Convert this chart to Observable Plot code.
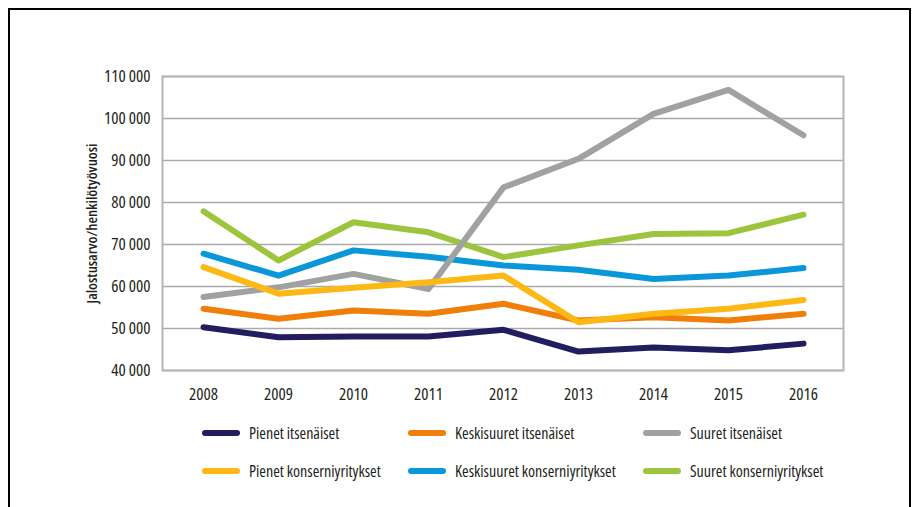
<!DOCTYPE html>
<html>
<head>
<meta charset="utf-8">
<script src="https://cdn.jsdelivr.net/npm/d3@7"></script>
<script src="https://cdn.jsdelivr.net/npm/@observablehq/plot@0.6"></script>
<style>
  html, body { margin: 0; padding: 0; background: #fff; }
  #wrap { position: relative; width: 922px; height: 507px; overflow: hidden; font-family: "Open Sans", sans-serif; font-stretch: condensed; }
  #border { position: absolute; left: 8px; top: 8px; width: 903px; height: 520px; border: 2px solid #000; box-sizing: border-box; }
  #chart { position: absolute; left: 0; top: 0; }
  #chart svg, #chart svg text { font-stretch: condensed; }
  #legend { position: absolute; left: 0; top: 420px; width: 922px; height: 80px; }
  .item { position: absolute; display: flex; align-items: center; font-size: 16px; color: #231f20; line-height: 20px; }
  .sw { width: 38px; height: 6px; border-radius: 3px; margin-right: 9px; }
</style>
</head>
<body>
<div id="wrap">
  <div id="border"></div>
  <div id="chart"></div>
  <div id="legend"></div>
</div>
<script>
const years = [2008, 2009, 2010, 2011, 2012, 2013, 2014, 2015, 2016];
const seriesNames = [
  "Pienet itsenäiset",
  "Keskisuuret itsenäiset",
  "Suuret itsenäiset",
  "Pienet konserniyritykset",
  "Keskisuuret konserniyritykset",
  "Suuret konserniyritykset"
];
const seriesColors = ["#221d5e", "#f07f0a", "#a0a1a0", "#fdb813", "#0a97d9", "#9cc53d"];

const pienetItsenaiset        = [50300, 47900, 48100, 48100, 49700, 44500, 45500, 44800, 46400];
const keskisuuretItsenaiset   = [54700, 52300, 54300, 53500, 55900, 51900, 52700, 51900, 53500];
const suuretItsenaiset        = [57500, 59800, 63000, 59400, 83600, 90400, 101100, 106800, 96000];
const pienetKonserni          = [64600, 58300, 59700, 61000, 62600, 51500, 53500, 54700, 56800];
const keskisuuretKonserni     = [67800, 62600, 68600, 67100, 65000, 64000, 61800, 62600, 64400];
const suuretKonserni          = [77900, 66200, 75300, 72900, 67000, 69800, 72500, 72700, 77100];

const yTicks = [40000, 50000, 60000, 70000, 80000, 90000, 100000, 110000];
const yLabel = "Jalostusarvo/henkilötyövuosi";

const valuesBySeries = [pienetItsenaiset, keskisuuretItsenaiset, suuretItsenaiset, pienetKonserni, keskisuuretKonserni, suuretKonserni];
const drawOrder = [0, 1, 4, 5, 2, 3];

const data = drawOrder.flatMap(i => years.map((yr, j) => ({series: seriesNames[i], year: String(yr), value: valuesBySeries[i][j]})));

const chart = Plot.plot({
  width: 922,
  height: 410,
  marginLeft: 162,
  marginRight: 79,
  marginTop: 76,
  marginBottom: 40,
  style: {fontFamily: "Open Sans", fontSize: "17px", color: "#231f20", background: "transparent"},
  x: {type: "point", domain: years.map(String), padding: 0.5, label: null},
  y: {domain: [40000, 110000], label: null},
  color: {domain: seriesNames, range: seriesColors},
  marks: [
    Plot.ruleY(yTicks, {stroke: "#aaaaaa", strokeWidth: 1.5}),
    Plot.frame({stroke: "#b5b5b5", strokeWidth: 2}),
    Plot.axisY(yTicks, {tickSize: 0, tickPadding: 12, fontSize: 17, fontWeight: 500, tickFormat: d => d3.format(",")(d).replace(/,/g, " "), label: null}),
    Plot.axisX({tickSize: 0, tickPadding: 17, fontSize: 17, fontWeight: 500, label: null}),
    Plot.text([yLabel], {frameAnchor: "left", textAnchor: "middle", rotate: -90, dx: -70, fontWeight: 600, fontSize: 15, fill: "#231f20"}),
    Plot.line(data, {x: "year", y: "value", z: "series", stroke: "series", strokeWidth: 6, strokeLinecap: "round", strokeLinejoin: "round", sort: null})
  ]
});
document.getElementById("chart").appendChild(chart);

const legend = document.getElementById("legend");
const colX = [202, 408, 643];
const rowY = [3, 41];
seriesNames.forEach((name, i) => {
  const item = document.createElement("div");
  item.className = "item";
  item.style.left = colX[i % 3] + "px";
  item.style.top = rowY[Math.floor(i / 3)] + "px";
  const sw = document.createElement("div");
  sw.className = "sw";
  sw.style.background = seriesColors[i];
  const label = document.createElement("span");
  label.textContent = name;
  item.appendChild(sw);
  item.appendChild(label);
  legend.appendChild(item);
});
</script>
</body>
</html>
